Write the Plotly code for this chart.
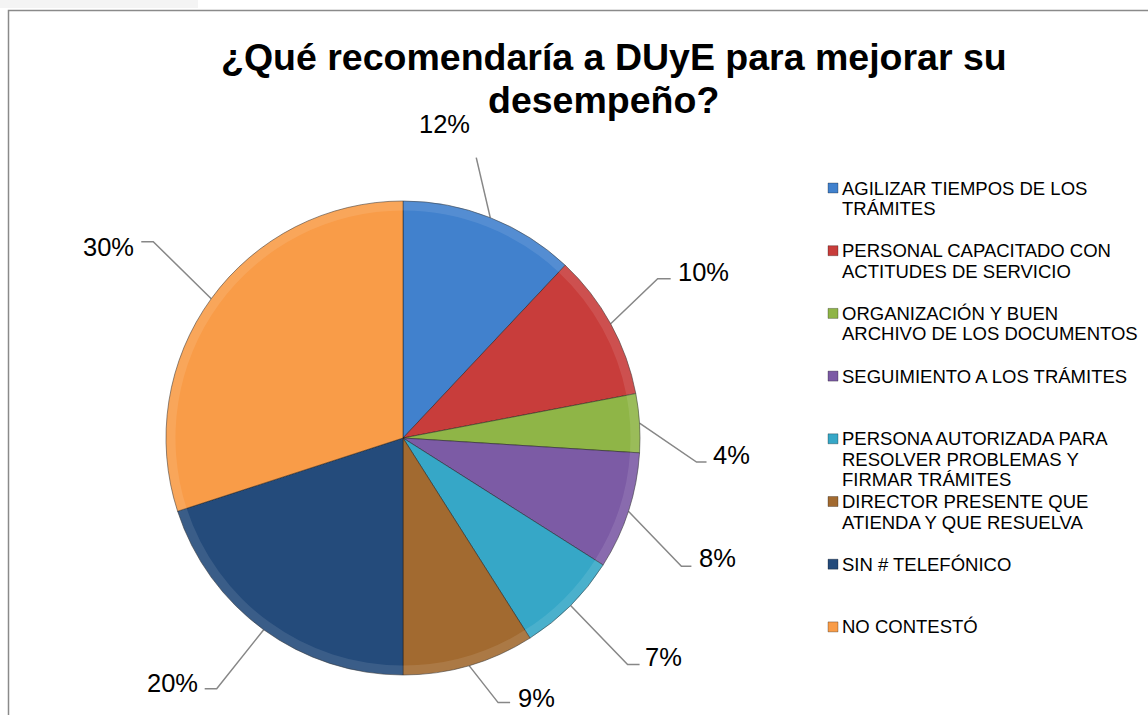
import math
import plotly.graph_objects as go

# ---- data ----
categories = [
    "AGILIZAR TIEMPOS DE LOS<br>TRÁMITES",
    "PERSONAL CAPACITADO CON<br>ACTITUDES DE SERVICIO",
    "ORGANIZACIÓN Y BUEN<br>ARCHIVO DE LOS DOCUMENTOS",
    "SEGUIMIENTO A LOS TRÁMITES",
    "PERSONA AUTORIZADA PARA<br>RESOLVER PROBLEMAS Y<br>FIRMAR TRÁMITES",
    "DIRECTOR PRESENTE QUE<br>ATIENDA Y QUE RESUELVA",
    "SIN # TELEFÓNICO",
    "NO CONTESTÓ",
]
percentages = [12, 10, 4, 8, 7, 9, 20, 30]
title_lines = ["¿Qué recomendaría a DUyE para mejorar su", "desempeño?"]

# ---- style ----
colors = ["#4181CD", "#C83D3B", "#8FB547", "#7C5BA5",
          "#36A7C7", "#A26A30", "#244B7B", "#F99C48"]
FONT = "Liberation Sans, Arial, sans-serif"
W, H = 1148, 715
CX, CY, R = 403, 438, 237          # pie centre and radius (px)

# leader lines: elbow offset from slice edge, horizontal hook, label shift
leader_elbow = [(-14, -60), (47, -45), (57, 39), (53, 55),
                (57, 59), (29, 37), (-47, 59), (-58, -57)]
leader_hook = [0, 13, 10, 10, 12, 12, -12, -12]
label_shift = [(-32, -34), (5, -7), (4, -7), (6, -8),
               (3, -8), (6, -5), (-5, -6), (-5, 5)]
label_anchor = ["center", "left", "left", "left",
                "left", "left", "right", "right"]

LEG_X, LEG_Y0, LEG_STEP, LEG_LINE = 840, 188, 62.7, 20.5

fig = go.Figure()

pie_domain = dict(x=[(CX - R) / W, (CX + R) / W],
                  y=[(H - CY - R) / H, (H - CY + R) / H])

fig.add_trace(go.Pie(
    labels=[c.replace("<br>", " ") for c in categories],
    values=percentages,
    sort=False,
    direction="clockwise",
    rotation=0,
    textinfo="none",
    hoverinfo="label+percent",
    marker=dict(colors=colors, line=dict(color="rgba(30,30,30,0.5)", width=1)),
    domain=pie_domain,
    showlegend=False,
))

# soft bevel highlight along the rim
fig.add_trace(go.Pie(
    labels=[c.replace("<br>", " ") for c in categories],
    values=percentages,
    sort=False,
    direction="clockwise",
    rotation=0,
    hole=0.96,
    textinfo="none",
    hoverinfo="skip",
    marker=dict(colors=["rgba(255,255,255,0.10)"] * len(percentages),
                line=dict(width=0)),
    domain=pie_domain,
    showlegend=False,
))

annotations = []
total = sum(percentages)
cum = 0
for i, v in enumerate(percentages):
    mid = (cum + v / 2) / total * 2 * math.pi
    cum += v
    ex, ey = CX + R * math.sin(mid), CY - R * math.cos(mid)
    bx, by = ex + leader_elbow[i][0], ey + leader_elbow[i][1]
    hx, hy = bx + leader_hook[i], by
    xs, ys = [ex, bx], [ey, by]
    if leader_hook[i]:
        xs.append(hx)
        ys.append(hy)
    fig.add_trace(go.Scatter(
        x=xs, y=ys, mode="lines", hoverinfo="skip", showlegend=False,
        line=dict(color="#878787", width=1.5),
    ))
    annotations.append(dict(
        x=hx + label_shift[i][0], y=hy + label_shift[i][1],
        xref="x", yref="y", text=f"{v}%", showarrow=False,
        xanchor=label_anchor[i], yanchor="middle",
        font=dict(family=FONT, size=25.5, color="#000000"),
    ))

# legend: swatch + wrapped text
for i, cat in enumerate(categories):
    y0 = LEG_Y0 + LEG_STEP * i
    fig.add_trace(go.Scatter(
        x=[LEG_X - 7], y=[y0], mode="markers", hoverinfo="skip", showlegend=False,
        marker=dict(symbol="square", size=10, color=colors[i],
                    line=dict(color="rgba(0,0,0,0.4)", width=0.7)),
    ))
    for j, line in enumerate(cat.split("<br>")):
        annotations.append(dict(
            x=LEG_X, y=y0 + LEG_LINE * j, xref="x", yref="y",
            text=line, showarrow=False, xanchor="left", yanchor="middle",
            font=dict(family=FONT, size=18.5, color="#000000"),
        ))

# title
for (tx, ty), t in zip([(614, 57), (603, 100)], title_lines):
    annotations.append(dict(
        x=tx, y=ty, xref="x", yref="y", text=f"<b>{t}</b>", showarrow=False,
        xanchor="center", yanchor="middle",
        font=dict(family=FONT, size=37.5, color="#000000"),
    ))

shapes = [
    dict(type="rect", xref="x", yref="y", x0=0, x1=198, y0=0, y1=8,
         line=dict(width=0), fillcolor="#f4f4f4", layer="below"),
    dict(type="rect", xref="x", yref="y", x0=8.5, x1=W + 20, y0=10.5, y1=H + 20,
         line=dict(color="#8a8a8a", width=1.5), fillcolor="rgba(0,0,0,0)"),
]

fig.update_layout(
    width=W, height=H,
    margin=dict(l=0, r=0, t=0, b=0),
    paper_bgcolor="white", plot_bgcolor="white",
    xaxis=dict(range=[0, W], visible=False, fixedrange=True, domain=[0, 1]),
    yaxis=dict(range=[H, 0], visible=False, fixedrange=True, domain=[0, 1]),
    annotations=annotations,
    shapes=shapes,
    showlegend=False,
)

fig.write_html("out.html")
